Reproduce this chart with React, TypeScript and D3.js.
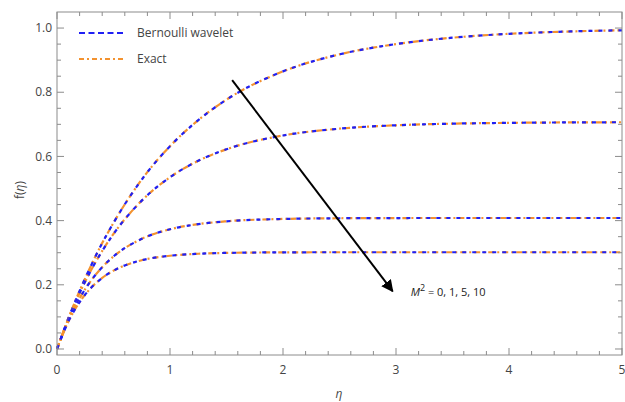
import React from 'react';
import * as d3 from 'd3';

const W = 625;
const H = 402;
const margin = { top: 12, right: 3, bottom: 47, left: 57 };

// sample points along eta
const eta = [0, 0.1, 0.2, 0.3, 0.4, 0.5, 0.75, 1, 1.25, 1.5, 2, 2.5, 3, 3.5, 4, 4.5, 5];

// f(eta) for M^2 = 0, 1, 5, 10
const fM0 = [0, 0.095, 0.181, 0.259, 0.33, 0.393, 0.528, 0.632, 0.713, 0.777, 0.865, 0.918, 0.95, 0.97, 0.982, 0.989, 0.993];
const fM1 = [0, 0.0933, 0.1742, 0.2445, 0.3055, 0.3584, 0.4623, 0.5352, 0.5864, 0.6223, 0.6653, 0.6865, 0.697, 0.7021, 0.7046, 0.7059, 0.7065];
const fM5 = [0, 0.0887, 0.1581, 0.2124, 0.255, 0.2883, 0.3432, 0.373, 0.3891, 0.3979, 0.4052, 0.4074, 0.408, 0.4082, 0.4082, 0.4082, 0.4082];
const fM10 = [0, 0.0851, 0.1462, 0.19, 0.2215, 0.2441, 0.2765, 0.2906, 0.2967, 0.2994, 0.3011, 0.3015, 0.3015, 0.3015, 0.3015, 0.3015, 0.3015];
const curves = [fM0, fM1, fM5, fM10];

const xTicks = [0, 1, 2, 3, 4, 5];
const yTicks = [0, 0.2, 0.4, 0.6, 0.8, 1.0];

// arrow in data coords: start, end
const arrowFrom = [1.55, 0.838];
const arrowTo = [2.97, 0.18];
const arrowLabelAt = [3.13, 0.165];

const BLUE = '#2020f4';
const ORANGE = '#f3922f';
const FRAME = '#8c8c8c';
const TEXT = '#444';
const FONT = '"Open Sans", "DejaVu Sans", sans-serif';

export default function App() {
  const iw = W - margin.left - margin.right;
  const ih = H - margin.top - margin.bottom;

  const x = d3.scaleLinear().domain([0, 5]).range([0, iw]);
  const y = d3.scaleLinear().domain([-0.0187, 1.05]).range([ih, 0]);

  const line = d3
    .line<number>()
    .x((d, i) => x(eta[i]))
    .y(d => y(d))
    .curve(d3.curveMonotoneX);

  const xMinor = d3.range(0, 5.001, 0.2);
  const yMinor = d3.range(0, 1.0001, 0.05);
  const isMajor = (v: number, step: number) => Math.abs(v / step - Math.round(v / step)) < 1e-6;

  return (
    <svg width={W} height={H} style={{ position: 'absolute', left: 0, top: 0 }} fontFamily={FONT}>
      <defs>
        <marker id="ah" viewBox="0 0 10 10" refX="9" refY="5" markerWidth="6" markerHeight="6" orient="auto">
          <path d="M0,0 L10,5 L0,10 z" fill="#000" />
        </marker>
      </defs>
      <g transform={`translate(${margin.left},${margin.top})`}>
        {/* curves: exact underneath, wavelet on top */}
        {curves.map((c, i) => (
          <g key={i}>
            <path d={line(c) || ''} fill="none" stroke={ORANGE} strokeWidth={2.2} strokeDasharray="6,3,2,3" />
            <path d={line(c) || ''} fill="none" stroke={BLUE} strokeWidth={2.2} strokeDasharray="4,6" />
          </g>
        ))}

        {/* frame */}
        <rect x={0} y={0} width={iw} height={ih} fill="none" stroke={FRAME} strokeWidth={1} />
        {xMinor.map(v => {
          const len = isMajor(v, 1) ? 7 : 4;
          return (
            <g key={'x' + v}>
              <line x1={x(v)} x2={x(v)} y1={ih} y2={ih - len} stroke={FRAME} />
              <line x1={x(v)} x2={x(v)} y1={0} y2={len} stroke={FRAME} />
            </g>
          );
        })}
        {yMinor.map(v => {
          const len = isMajor(v, 0.2) ? 7 : 4;
          return (
            <g key={'y' + v}>
              <line x1={0} x2={len} y1={y(v)} y2={y(v)} stroke={FRAME} />
              <line x1={iw} x2={iw - len} y1={y(v)} y2={y(v)} stroke={FRAME} />
            </g>
          );
        })}
        {xTicks.map(v => (
          <text key={'xl' + v} x={x(v)} y={ih + 19} fontSize={12} fill={TEXT} textAnchor="middle">
            {d3.format('d')(v)}
          </text>
        ))}
        {yTicks.map(v => (
          <text key={'yl' + v} x={-5} y={y(v)} dy="0.35em" fontSize={12} fill={TEXT} textAnchor="end">
            {d3.format('.1f')(v)}
          </text>
        ))}

        {/* arrow */}
        <line
          x1={x(arrowFrom[0])}
          y1={y(arrowFrom[1])}
          x2={x(arrowTo[0])}
          y2={y(arrowTo[1])}
          stroke="#000"
          strokeWidth={2}
          markerEnd="url(#ah)"
        />
        <text x={x(arrowLabelAt[0])} y={y(arrowLabelAt[1])} fontSize={11} fill="#222">
          <tspan fontStyle="italic">M</tspan>
          <tspan dy={-5} fontSize={9}>2</tspan>
          <tspan dy={5}> = 0, 1, 5, 10</tspan>
        </text>

        {/* legend */}
        <line x1={22} x2={69} y1={21} y2={21} stroke={BLUE} strokeWidth={2.2} strokeDasharray="6,3.5" />
        <text x={80} y={21} dy="0.35em" fontSize={12} fill={TEXT}>Bernoulli wavelet</text>
        <line x1={22} x2={69} y1={47} y2={47} stroke={ORANGE} strokeWidth={2.2} strokeDasharray="5,3,2,3" />
        <text x={80} y={47} dy="0.35em" fontSize={12} fill={TEXT}>Exact</text>
      </g>

      <text x={24} y={190} fontSize={12} fill={TEXT} textAnchor="middle" transform="rotate(-90,24,190)">
        f(<tspan fontStyle="italic">η</tspan>)
      </text>
      <text x={339} y={398} fontSize={12} fill={TEXT} fontStyle="italic" textAnchor="middle">η</text>
    </svg>
  );
}
